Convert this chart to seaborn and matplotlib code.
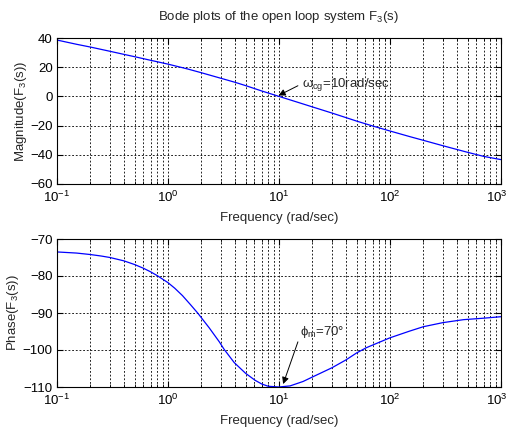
import numpy as np
import pandas as pd
import matplotlib
matplotlib.use("Agg")
import matplotlib.pyplot as plt
import matplotlib.transforms as mtransforms
import seaborn as sns
from matplotlib.ticker import LogLocator, NullFormatter, MultipleLocator

# Frequency response of F3(s): magnitude (dB) and phase (deg) against rad/sec
freq_mag = [0.1, 0.15, 0.2, 0.3, 0.4, 0.5, 0.7, 1, 1.5, 2, 3, 4, 5, 7, 10, 15, 20, 30,
            50, 70, 100, 150, 200, 300, 500, 700, 1000]
magnitude_db = [38.6, 35.7, 33.8, 30.9, 28.8, 27.2, 24.7, 22.1, 18.8, 16.2, 12.4, 9.7,
                7.4, 3.7, 0.0, -4.2, -7.2, -11.4, -16.9, -20.3, -23.7, -27.5, -30.1,
                -33.8, -38.3, -41.1, -43.3]

freq_ph = [0.1, 0.15, 0.2, 0.25, 0.3, 0.4, 0.5, 0.6, 0.7, 0.8, 0.9, 1.0, 1.15, 1.35, 1.6,
           1.85, 2.0, 2.35, 2.9, 3.2, 3.95, 5.0, 6.1, 7.0, 8.0, 10, 12.6, 16.5, 20, 30,
           40, 50, 61, 100, 150, 200, 300, 460, 700, 1000]
phase_deg = [-73.5, -73.8, -74.2, -74.6, -75.0, -75.9, -76.9, -77.9, -78.9, -79.9, -80.9,
             -81.8, -83.3, -85.3, -87.8, -90.0, -91.3, -94.0, -97.8, -99.8, -103.4,
             -106.3, -108.2, -109.2, -109.8, -110.0, -109.7, -108.5, -107.3, -104.8,
             -102.7, -100.8, -99.4, -96.7, -94.9, -93.7, -92.6, -91.8, -91.4, -91.0]

df_mag = pd.DataFrame({"w": freq_mag, "mag": magnitude_db})
df_ph = pd.DataFrame({"w": freq_ph, "ph": phase_deg})

sns.set_style("ticks")
plt.rcParams["font.family"] = ["Liberation Sans", "DejaVu Sans"]
plt.rcParams["mathtext.fontset"] = "custom"
plt.rcParams["mathtext.rm"] = "Liberation Sans"
plt.rcParams["mathtext.it"] = "Liberation Sans"
FS = 9.5

fig = plt.figure(figsize=(5.1, 4.3), dpi=100)
W, H = 510, 430
ax1 = fig.add_axes([57 / W, 1 - 184 / H, 444 / W, 146 / H])
ax2 = fig.add_axes([57 / W, 1 - 387 / H, 444 / W, 148 / H])

sns.lineplot(data=df_mag, x="w", y="mag", ax=ax1, color="#0000ff", linewidth=0.9)
sns.lineplot(data=df_ph, x="w", y="ph", ax=ax2, color="#0000ff", linewidth=0.9)

grid_kw = dict(color="black", linestyle=(0, (2.2, 2.2)), linewidth=0.6)
for ax, ylim, step in [(ax1, (-60, 40), 20), (ax2, (-110, -70), 10)]:
    ax.set_xscale("log")
    ax.set_xlim(0.1, 1000)
    ax.set_ylim(*ylim)
    ax.yaxis.set_major_locator(MultipleLocator(step))
    ax.xaxis.set_major_locator(LogLocator(base=10, numticks=10))
    ax.xaxis.set_minor_locator(LogLocator(base=10, subs=np.arange(2, 10), numticks=20))
    ax.xaxis.set_minor_formatter(NullFormatter())
    ax.grid(True, which="major", axis="both", **grid_kw)
    ax.grid(True, which="minor", axis="x", **grid_kw)
    ax.tick_params(which="both", direction="in", top=True, right=True, labelsize=FS,
                   colors="black", pad=3)
    ax.tick_params(axis="x", which="major", pad=4)
    ax.tick_params(which="major", length=4)
    ax.tick_params(which="minor", length=2)
    for s in ax.spines.values():
        s.set_color("black")
        s.set_linewidth(0.8)
    ax.set_xlabel("Frequency (rad/sec)", fontsize=FS, labelpad=5)

ax1.set_ylabel("Magnitude(F$_3$(s))", fontsize=FS, labelpad=1)
ax2.set_ylabel("Phase(F$_3$(s))", fontsize=FS, labelpad=1)
ax1.set_title("Bode plots of the open loop system F$_3$(s)", fontsize=FS, pad=13)

arrow_kw = dict(arrowstyle="-|>", color="black", lw=0.7, mutation_scale=10,
                shrinkA=0, shrinkB=0)

# gain crossover marker
ax1.text(16.1, 6.3, "$\\omega_{cg}$=10rad/sec", fontsize=FS, ha="left", va="baseline")
ax1.annotate("", xy=(9.9, 0.6), xytext=(14.8, 7.3), arrowprops=arrow_kw)

# phase margin marker
ax2.text(15.5, -96.0, "$\\phi_m$=70\u00b0", fontsize=FS, ha="left", va="baseline")
ax2.annotate("", xy=(10.9, -109.2), xytext=(14.8, -97.8), arrowprops=arrow_kw)

# keep the rightmost decade label inside the canvas
fig.canvas.draw()
shift = mtransforms.ScaledTranslation(-4 / 100, 0, fig.dpi_scale_trans)
for ax in (ax1, ax2):
    last = ax.get_xticklabels()[-1]
    for lbl in ax.get_xticklabels():
        if "10^{3}" in lbl.get_text():
            lbl.set_transform(lbl.get_transform() + shift)

fig.savefig("out.png", dpi=100, facecolor="white")
